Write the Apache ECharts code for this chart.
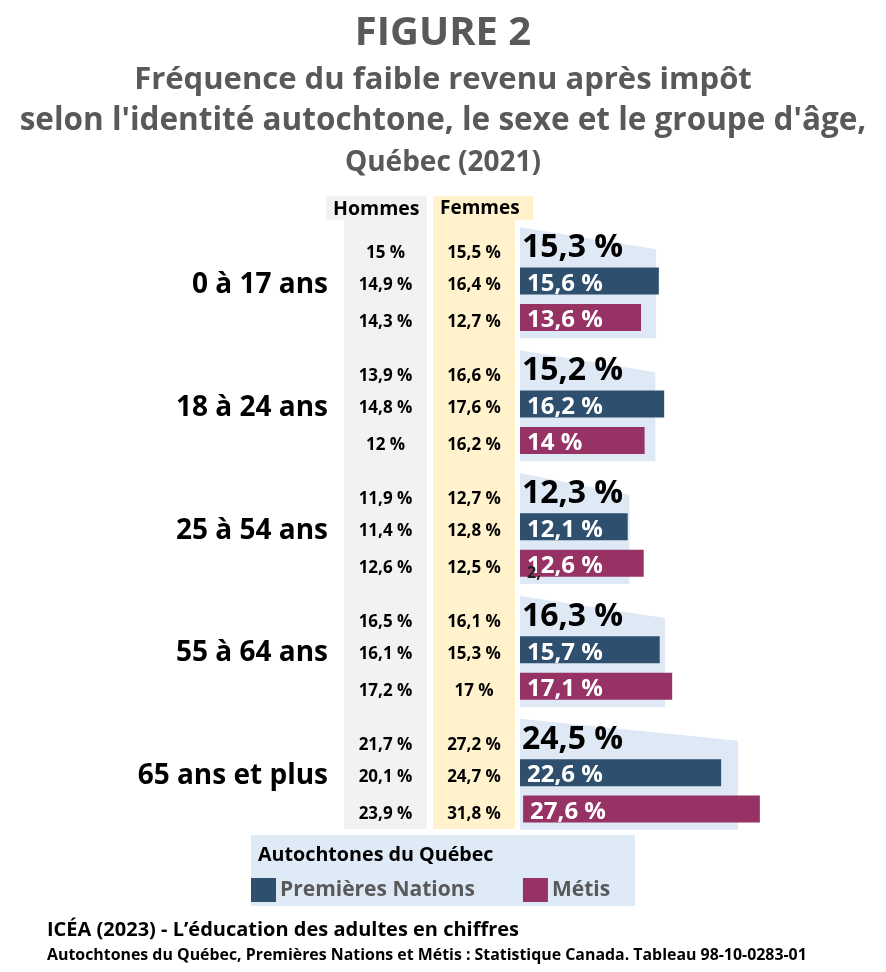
<!DOCTYPE html>
<html>
<head>
<meta charset="utf-8">
<title>Figure 2</title>
<script src="https://cdnjs.cloudflare.com/ajax/libs/echarts/6.0.0/echarts.min.js"></script>
<style>
html, body { margin: 0; padding: 0; background: #fff; }
#main { width: 886px; height: 972px; }
</style>
</head>
<body>
<div id="main"></div>
<script>
const font = '"Open Sans", sans-serif'
const gris = '#595959'

const ages = ['0 à 17 ans', '18 à 24 ans', '25 à 54 ans', '55 à 64 ans', '65 ans et plus']

// longueurs
const autochtones = [15.3, 15.2, 12.3, 16.3, 24.5]
const premieresNations = [15.6, 16.2, 12.1, 15.7, 22.6]
const metis = [13.6, 14, 13.9, 17.1, 26.6]
const metisDecalage = [0, 0, 0, 0, 0.35]

// étiquettes affichées
const autochtonesTxt = ['15,3 %', '15,2 %', '12,3 %', '16,3 %', '24,5 %']
const premieresTxt = ['15,6 %', '16,2 %', '12,1 %', '15,7 %', '22,6 %']
const metisTxt = ['13,6 %', '14 %', '12,6 %', '17,1 %', '27,6 %']

const hommes = [
	['15 %', '14,9 %', '14,3 %'],
	['13,9 %', '14,8 %', '12 %'],
	['11,9 %', '11,4 %', '12,6 %'],
	['16,5 %', '16,1 %', '17,2 %'],
	['21,7 %', '20,1 %', '23,9 %']
]
const femmes = [
	['15,5 %', '16,4 %', '12,7 %'],
	['16,6 %', '17,6 %', '16,2 %'],
	['12,7 %', '12,8 %', '12,5 %'],
	['16,1 %', '15,3 %', '17 %'],
	['27,2 %', '24,7 %', '31,8 %']
]

const colonne = (nom, index, lignes) => {
	return {
		name: nom,
		type: 'custom',
		xAxisIndex: index,
		yAxisIndex: index,
		silent: true,
		data: lignes.map((l, i) => [0.5, i]),
		renderItem: (params, api) => {
			const c = api.coord([0.5, api.value(1)])
			const rangs = lignes[api.value(1)]
			return {
				type: 'group',
				children: [-46, -14, 23].map((dy, k) => ({
					type: 'text',
					x: c[0],
					y: c[1] + dy,
					style: {
						text: rangs[k],
						align: 'center',
						verticalAlign: 'middle',
						font: '700 17px ' + font,
						fill: '#000'
					}
				}))
			}
		}
	}
}

const panneaux = {
	name: 'Autochtones du Québec',
	type: 'custom',
	silent: true,
	z: 1,
	data: autochtones.map((v, i) => [v, i]),
	encode: {x: 0, y: 1},
	renderItem: (params, api) => {
		const i = api.value(1)
		const d = api.coord([api.value(0), i])
		const x0 = api.coord([0, i])[0]
		return {
			type: 'group',
			children: [
				{
					type: 'polygon',
					shape: {points: [[x0, d[1] - 72], [d[0], d[1] - 50], [d[0], d[1] + 39], [x0, d[1] + 39]]},
					style: {fill: '#dee9f5'}
				},
				{
					type: 'text',
					x: x0 + 2,
					y: d[1] - 51,
					style: {
						text: autochtonesTxt[i],
						align: 'left',
						verticalAlign: 'middle',
						font: '700 32px ' + font,
						fill: '#000'
					}
				}
			]
		}
	}
}

const etiquette = (textes) => {
	return {
		show: true,
		position: 'insideLeft',
		distance: 7,
		offset: [0, 3],
		color: '#fff',
		fontFamily: font,
		fontWeight: 700,
		fontSize: 24,
		formatter: (p) => textes[p.dataIndex]
	}
}

const titre = (texte, y, taille) => {
	return {
		text: texte,
		left: 443,
		top: y,
		textAlign: 'center',
		padding: 0,
		textStyle: {color: gris, fontFamily: font, fontWeight: 700, fontSize: taille}
	}
}

const texte = (t, x, y, taille, couleur, z) => {
	return {
		type: 'text',
		x: x,
		y: y,
		z: z || 3,
		style: {text: t, font: '700 ' + taille + 'px ' + font, fill: couleur || '#000', verticalAlign: 'middle'}
	}
}

const fond = (x, y, w, h, couleur) => {
	return {type: 'rect', x: x, y: y, z: 0, shape: {width: w, height: h}, style: {fill: couleur}}
}

const axeCacheX = (i) => ({gridIndex: i, type: 'value', min: 0, max: 1, show: false})
const axeCacheY = (i) => ({gridIndex: i, type: 'category', data: ages, inverse: true, show: false})

const option = {
	animation: false,
	backgroundColor: '#fff',
	title: [
		titre('FIGURE 2', 14, 40),
		titre('Fréquence du faible revenu après impôt', 65, 31),
		titre("selon l'identité autochtone, le sexe et le groupe d'âge,", 105, 31.5),
		titre('Québec (2021)', 149, 28)
	],
	grid: [
		{left: 520, top: 237.8, width: 356, height: 614.5},
		{left: 344, top: 237.8, width: 83, height: 614.5},
		{left: 433, top: 237.8, width: 82, height: 614.5}
	],
	xAxis: [
		{gridIndex: 0, type: 'value', min: 0, max: 40, show: false},
		axeCacheX(1),
		axeCacheX(2)
	],
	yAxis: [
		{
			gridIndex: 0,
			type: 'category',
			data: ages,
			inverse: true,
			axisLine: {show: false},
			axisTick: {show: false},
			axisLabel: {
				margin: 192,
				color: '#000',
				fontFamily: font,
				fontWeight: 700,
				fontSize: 28,
				verticalAlign: 'bottom',
				lineHeight: 29
			}
		},
		axeCacheY(1),
		axeCacheY(2)
	],
	legend: {
		left: 251,
		top: 878,
		padding: 0,
		itemWidth: 25,
		itemHeight: 24,
		itemGap: 48,
		selectedMode: false,
		icon: 'rect',
		data: ['Premières Nations', 'Métis'],
		textStyle: {color: gris, fontFamily: font, fontWeight: 700, fontSize: 21, padding: [7, 0, 0, -1]}
	},
	series: [
		panneaux,
		{
			name: 'Premières Nations',
			type: 'bar',
			data: premieresNations,
			barWidth: 27,
			barGap: '35%',
			z: 2,
			itemStyle: {color: '#2e4f6e'},
			label: etiquette(premieresTxt)
		},
		{
			name: 'décalage',
			type: 'bar',
			stack: 'metis',
			data: metisDecalage,
			barWidth: 27,
			z: 2,
			itemStyle: {color: 'transparent'}
		},
		{
			name: 'Métis',
			type: 'bar',
			stack: 'metis',
			data: metis,
			barWidth: 27,
			z: 2,
			itemStyle: {color: '#963264'},
			label: etiquette(metisTxt)
		},
		colonne('Hommes', 1, hommes),
		colonne('Femmes', 2, femmes)
	],
	graphic: [
		fond(326, 196, 101, 24, '#f2f2f2'),
		fond(344, 219, 83, 610, '#f2f2f2'),
		fond(433, 196, 100, 24, '#fff2cc'),
		fond(433, 219, 82, 610, '#fff2cc'),
		fond(251, 835, 384, 71, '#deeaf6'),
		texte('Hommes', 333, 209, 19.5),
		texte('Femmes', 440, 209, 19),
		texte('Autochtones du Québec', 258, 855, 19.7),
		texte('2,', 527, 573, 16, '#222'),
		texte('ICÉA (2023) - L’éducation des adultes en chiffres', 47, 930, 20),
		texte('Autochtones du Québec, Premières Nations et Métis : Statistique Canada. Tableau 98-10-0283-01', 47, 955, 15.9)
	]
}

var myChart = echarts.init(document.getElementById('main'));
myChart.setOption(option);
</script>
</body>
</html>
